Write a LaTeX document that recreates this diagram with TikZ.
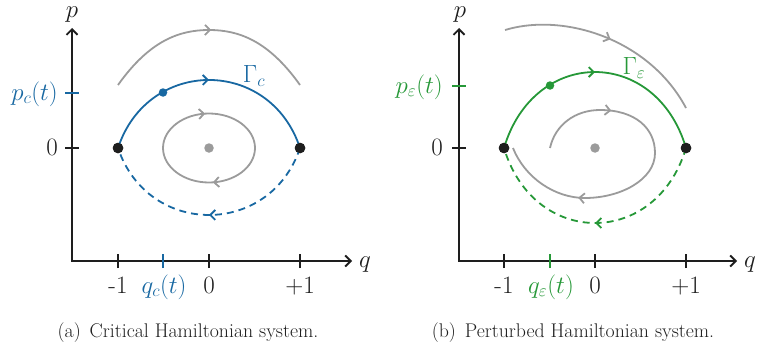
\documentclass[tikz,border=0pt]{standalone}
\usetikzlibrary{arrows.meta,decorations.markings}
\definecolor{cblue}{RGB}{24,104,162}
\definecolor{cgreen}{RGB}{38,152,56}
\definecolor{cgray}{RGB}{155,155,155}
\definecolor{cblack}{RGB}{30,30,30}
\tikzset{
  barb/.tip={Straight Barb[length=5pt,width=10pt]},
  axisline/.style={draw=cblack,line width=1.9pt,{Straight Barb[length=5.5pt,width=11pt]}-{Straight Barb[length=5.5pt,width=11pt]}},
  tickmark/.style={line width=1.9pt},
  flow/.style={line width=1.8pt},
  dashflow/.style={line width=1.8pt,dash pattern=on 7pt off 5pt},
  onearrow/.style={postaction={decorate},decoration={markings,mark=at position #1 with {\arrow[solid]{barb}}}},
  twoarrows/.style n args={2}{postaction={decorate},decoration={markings,
      mark=at position #1 with {\arrow{barb}},mark=at position #2 with {\arrow{barb}}}},
  sdot/.style={circle,fill=cblack,inner sep=0pt,minimum size=10.5pt},
  cdot/.style={circle,fill=cgray,inner sep=0pt,minimum size=9.5pt},
  pdot/.style={circle,inner sep=0pt,minimum size=8.5pt},
  lbl/.style={font=\fontsize{25}{30}\selectfont,inner sep=0pt,text=cblack},
  captext/.style={font=\fontsize{19.8}{24}\selectfont,inner sep=0pt,text=cblack,anchor=base},
}
\begin{document}
\begin{tikzpicture}[x=1pt,y=-1pt]
\useasboundingbox (0,0) rectangle (759,345);

% ================= Panel (a) =================
\coordinate (aTop) at (72,28);
\coordinate (aO) at (72,261);
\coordinate (aRight) at (352,261);
\draw[axisline] (aTop) -- (aO) -- (aRight);
\node[lbl,anchor=base] (aP) at (72,17.5) {$p$};
\node[lbl,anchor=base] (aQ) at (365,267) {$q$};

\coordinate (aTm) at (118,261);
\coordinate (aTq) at (163,261);
\coordinate (aTz) at (209,261);
\coordinate (aTp) at (300,261);
\coordinate (aTy0) at (72,148);
\coordinate (aTyp) at (72,93);
\foreach \c in {aTm,aTz,aTp}{\draw[tickmark,cblack] ([yshift=-7pt]\c) -- ([yshift=7pt]\c);}
\draw[tickmark,cblue] ([yshift=-7pt]aTq) -- ([yshift=7pt]aTq);
\draw[tickmark,cblack] ([xshift=-7pt]aTy0) -- ([xshift=7pt]aTy0);
\draw[tickmark,cblue] ([xshift=-7pt]aTyp) -- ([xshift=7pt]aTyp);

\node[lbl,anchor=base] (aLm) at (118,293) {-1};
\node[lbl,anchor=base,text=cblue] (aLq) at (164,293) {$q_c(t)$};
\node[lbl,anchor=base] (aLz) at (209,293) {0};
\node[lbl,anchor=base] (aLp) at (300,293) {+1};
\node[lbl,anchor=base east] (aLy0) at (58,155) {0};
\node[lbl,anchor=base east,text=cblue] (aLyp) at (58,100) {$p_c(t)$};

% gray orbits
\coordinate (aG1) at (118,85);
\coordinate (aG2) at (300,85);
\draw[flow,cgray,onearrow=0.51] (aG1) .. controls (150,40) and (180,30) .. (209,30)
  .. controls (238,30) and (268,40) .. (aG2);
\coordinate (aE) at (255,148);
\draw[flow,cgray,twoarrows={0.235}{0.735}] (aE)
  .. controls (255,167.05) and (234.4,182.5) .. (209,182.5)
  .. controls (183.6,182.5) and (163,167.05) .. (163,148)
  .. controls (163,128.95) and (183.6,113.5) .. (209,113.5)
  .. controls (234.4,113.5) and (255,128.95) .. (aE);

% saddles and centre
\node[sdot] (aS1) at (118,148) {};
\node[sdot] (aS2) at (300,148) {};
\node[cdot] (aC) at (209,148) {};

% separatrix
\draw[flow,cblue,onearrow=0.5] (aS1.center) .. controls (148,57.3) and (270,57.3) .. (aS2.center);
\draw[dashflow,cblue,onearrow=0.5] (aS2.center) .. controls (270,237.3) and (148,237.3) .. (aS1.center);
\node[sdot] at (aS1) {};
\node[sdot] at (aS2) {};
\node[pdot,fill=cblue] (aDot) at (163,92.5) {};
\node[lbl,text=cblue] (aGam) at (254,76) {$\Gamma_c$};

\node[captext] (capA) at (188,337) {(a)\hspace{0.45em}Critical Hamiltonian system.};

% ================= Panel (b) =================
\coordinate (bTop) at (459,28);
\coordinate (bO) at (459,261);
\coordinate (bRight) at (737,261);
\draw[axisline] (bTop) -- (bO) -- (bRight);
\node[lbl,anchor=base] (bP) at (460,17.5) {$p$};
\node[lbl,anchor=base] (bQ) at (750,267) {$q$};

\coordinate (bTm) at (504,261);
\coordinate (bTq) at (550,261);
\coordinate (bTz) at (595,261);
\coordinate (bTp) at (686,261);
\coordinate (bTy0) at (459,148);
\coordinate (bTyp) at (459,86);
\foreach \c in {bTm,bTz,bTp}{\draw[tickmark,cblack] ([yshift=-7pt]\c) -- ([yshift=7pt]\c);}
\draw[tickmark,cgreen] ([yshift=-7pt]bTq) -- ([yshift=7pt]bTq);
\draw[tickmark,cblack] ([xshift=-7pt]bTy0) -- ([xshift=7pt]bTy0);
\draw[tickmark,cgreen] ([xshift=-7pt]bTyp) -- ([xshift=7pt]bTyp);

\node[lbl,anchor=base] (bLm) at (504,293) {-1};
\node[lbl,anchor=base,text=cgreen] (bLq) at (551,293) {$q_\varepsilon(t)$};
\node[lbl,anchor=base] (bLz) at (595,293) {0};
\node[lbl,anchor=base] (bLp) at (686,293) {+1};
\node[lbl,anchor=base east] (bLy0) at (443,155) {0};
\node[lbl,anchor=base east,text=cgreen] (bLyp) at (443,93) {$p_\varepsilon(t)$};

% gray orbits
\coordinate (bG1) at (505,30);
\coordinate (bG2) at (686,108);
\draw[flow,cgray,onearrow=0.51] (bG1) .. controls (565,12) and (650,40) .. (bG2);
\coordinate (bI1) at (550,148);
\coordinate (bI2) at (513,148);
\draw[flow,cgray,twoarrows={0.24}{0.74}] (bI1)
  .. controls (555,125) and (575,110) .. (600,110)
  .. controls (635,110) and (655,128) .. (655,153)
  .. controls (655,180) and (620,198) .. (585,198)
  .. controls (555,198) and (525,178) .. (bI2);

% saddles and centre
\node[sdot] (bS1) at (504,148) {};
\node[sdot] (bS2) at (686,148) {};
\node[cdot] (bC) at (595,148) {};

% separatrix
\draw[flow,cgreen,onearrow=0.5] (bS1.center) .. controls (534,46.7) and (656,46.7) .. (bS2.center);
\draw[dashflow,cgreen,onearrow=0.5] (bS2.center) .. controls (656,248) and (534,248) .. (bS1.center);
\node[sdot] at (bS1) {};
\node[sdot] at (bS2) {};
\node[pdot,fill=cgreen] (bDot) at (550,85.5) {};
\node[lbl,text=cgreen] (bGam) at (634,68) {$\Gamma_\varepsilon$};

\node[captext] (capB) at (573,337) {(b)\hspace{0.45em}Perturbed Hamiltonian system.};
\end{tikzpicture}
\end{document}
